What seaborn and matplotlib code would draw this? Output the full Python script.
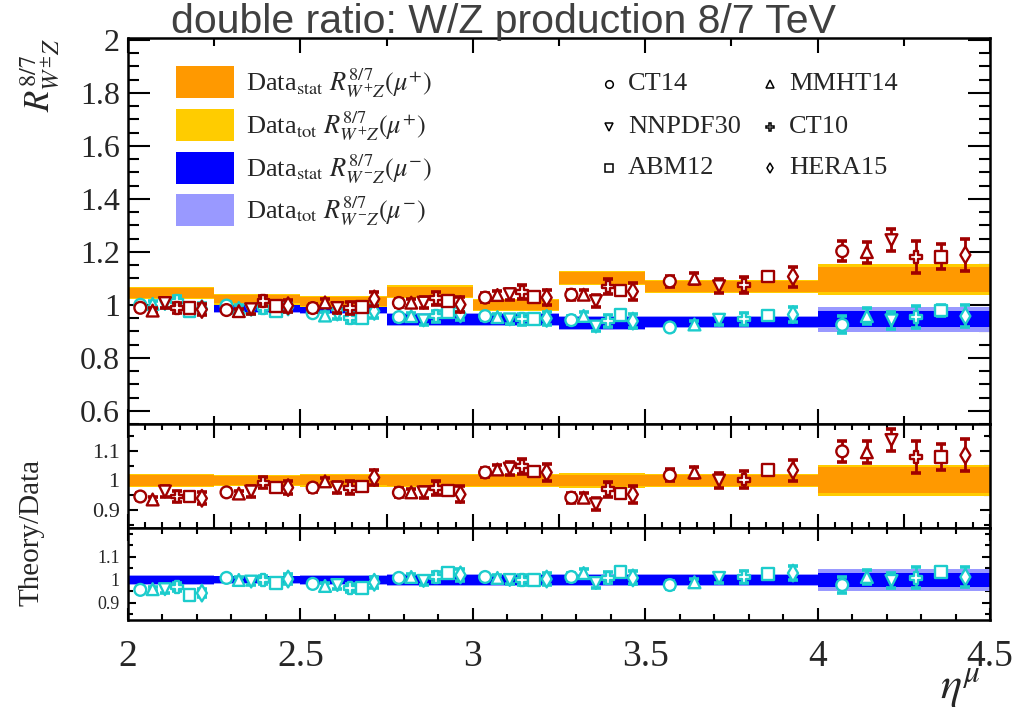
import numpy as np
import pandas as pd
import matplotlib
matplotlib.use("Agg")
import matplotlib.pyplot as plt
import seaborn as sns
from matplotlib.patches import Rectangle
from matplotlib.ticker import MultipleLocator, FormatStrFormatter, FixedLocator

sns.set_theme(style="ticks")
plt.rcParams['font.family'] = ['Liberation Serif', 'DejaVu Serif']
plt.rcParams['mathtext.fontset'] = 'stix'

# ---------------- data ----------------
bin_edges = [2.0, 2.25, 2.5, 2.75, 3.0, 3.25, 3.5, 4.0, 4.5]
pdf_names = ['CT14', 'MMHT14', 'NNPDF30', 'CT10', 'ABM12', 'HERA15']
pdf_markers = ['o', '^', 'v', 'P', 's', 'd']

# measured double ratio, W+ (mu+)
data_wp = [1.045, 1.021, 1.012, 1.050, 1.000, 1.102, 1.070, 1.095]
data_wp_stat = [0.020, 0.016, 0.017, 0.019, 0.018, 0.022, 0.021, 0.048]
data_wp_tot = [0.024, 0.020, 0.021, 0.023, 0.022, 0.027, 0.025, 0.058]
# measured double ratio, W- (mu-)
data_wm = [1.045, 0.988, 0.985, 0.945, 0.945, 0.930, 0.935, 0.945]
data_wm_stat = [0.020, 0.015, 0.016, 0.020, 0.021, 0.022, 0.019, 0.030]
data_wm_tot = [0.023, 0.019, 0.020, 0.024, 0.025, 0.026, 0.023, 0.047]

# theory / data, rows = eta bins, columns = PDF sets
ratio_wp = [
    [0.946, 0.936, 0.963, 0.946, 0.946, 0.940],
    [0.960, 0.956, 0.963, 0.993, 0.976, 0.976],
    [0.976, 0.997, 0.976, 0.976, 0.980, 1.010],
    [0.959, 0.960, 0.960, 0.976, 0.966, 0.953],
    [1.027, 1.037, 1.040, 1.048, 1.030, 1.027],
    [0.942, 0.942, 0.920, 0.970, 0.956, 0.953],
    [1.017, 1.027, 1.000, 1.003, 1.034, 1.034],
    [1.098, 1.095, 1.136, 1.078, 1.078, 1.085],
]
ratio_wm = [
    [0.957, 0.960, 0.960, 0.970, 0.935, 0.943],
    [1.009, 1.000, 0.993, 1.000, 0.987, 1.004],
    [0.983, 0.974, 0.978, 0.965, 0.965, 0.990],
    [1.009, 1.013, 0.996, 1.013, 1.030, 1.022],
    [1.013, 1.009, 1.000, 1.000, 1.000, 1.004],
    [1.013, 1.030, 0.987, 1.009, 1.035, 1.009],
    [0.978, 0.990, 1.009, 1.013, 1.026, 1.030],
    [0.978, 1.013, 0.996, 1.009, 1.035, 1.013],
]
# relative theory uncertainties
err_wp = [
    [0.012, 0.010, 0.018, 0.020, 0.010, 0.022],
    [0.012, 0.010, 0.018, 0.020, 0.010, 0.022],
    [0.014, 0.012, 0.020, 0.022, 0.012, 0.026],
    [0.015, 0.013, 0.020, 0.024, 0.012, 0.028],
    [0.016, 0.014, 0.020, 0.024, 0.013, 0.028],
    [0.018, 0.016, 0.022, 0.026, 0.015, 0.030],
    [0.020, 0.018, 0.024, 0.028, 0.016, 0.034],
    [0.032, 0.033, 0.033, 0.050, 0.040, 0.050],
]
err_wm = [
    [0.010, 0.010, 0.016, 0.018, 0.010, 0.020],
    [0.012, 0.012, 0.016, 0.018, 0.010, 0.020],
    [0.012, 0.012, 0.018, 0.020, 0.010, 0.024],
    [0.014, 0.014, 0.018, 0.022, 0.012, 0.026],
    [0.014, 0.014, 0.018, 0.022, 0.012, 0.026],
    [0.016, 0.016, 0.020, 0.024, 0.014, 0.028],
    [0.016, 0.016, 0.020, 0.024, 0.014, 0.030],
    [0.035, 0.030, 0.033, 0.045, 0.020, 0.043],
]

legend_band_labels = [
    r'Data$_{\mathrm{stat}}$ $R^{8/7}_{W^{+}Z}(\mu^{+})$',
    r'Data$_{\mathrm{tot}}$ $R^{8/7}_{W^{+}Z}(\mu^{+})$',
    r'Data$_{\mathrm{stat}}$ $R^{8/7}_{W^{-}Z}(\mu^{-})$',
    r'Data$_{\mathrm{tot}}$ $R^{8/7}_{W^{-}Z}(\mu^{-})$',
]

# ---------------- styles ----------------
C_ORANGE = '#FF9900'
C_YELLOW = '#FFCC00'
C_BLUE = '#0000FF'
C_LAV = '#9999FF'
C_RED = '#A00000'
C_CYAN = '#1CCCCC'
band_colors = [C_ORANGE, C_YELLOW, C_BLUE, C_LAV]
marker_map = dict(zip(pdf_names, pdf_markers))

edges = np.array(bin_edges)
lo, wid = edges[:-1], np.diff(edges)


def theory_frame(ratio, err, data):
    rows = []
    for b in range(len(lo)):
        for i, name in enumerate(pdf_names):
            x = lo[b] + (i + 1) / 7.0 * wid[b]
            r = ratio[b][i]
            rows.append(dict(x=x, pdf=name, ratio=r, ratio_err=err[b][i] * r,
                             val=r * data[b], val_err=err[b][i] * r * data[b]))
    return pd.DataFrame(rows)


df_wp = theory_frame(ratio_wp, err_wp, data_wp)
df_wm = theory_frame(ratio_wm, err_wm, data_wm)


def bands(ax, c, e, color, z):
    c = np.asarray(c); e = np.asarray(e)
    ax.bar(lo, 2 * e, bottom=c - e, width=wid, align='edge', color=color,
           linewidth=0, zorder=z)


def points(ax, df, ycol, ecol, color, z):
    ax.errorbar(df['x'], df[ycol], yerr=df[ecol], fmt='none', ecolor=color,
                elinewidth=2.0, capsize=3.5, capthick=2.6, zorder=z)
    sns.scatterplot(data=df, x='x', y=ycol, style='pdf', markers=marker_map,
                    style_order=pdf_names, s=72, color=color, legend=False,
                    ax=ax, zorder=z + 0.5)
    coll = ax.collections[-1]
    coll.set_facecolor('white')
    coll.set_edgecolor(color)
    coll.set_linewidth(1.7)


fig = plt.figure(figsize=(10.13, 7.16), dpi=100)
L, W = 128 / 1013, 862 / 1013
ax1 = fig.add_axes([L, 1 - 424 / 716, W, 386 / 716])
ax2 = fig.add_axes([L, 1 - 528 / 716, W, 104 / 716])
ax3 = fig.add_axes([L, 1 - 620 / 716, W, 92 / 716])

# top panel
bands(ax1, data_wm, data_wm_tot, C_LAV, 1)
bands(ax1, data_wm, data_wm_stat, C_BLUE, 2)
bands(ax1, data_wp, data_wp_tot, C_YELLOW, 3)
bands(ax1, data_wp, data_wp_stat, C_ORANGE, 4)
points(ax1, df_wm, 'val', 'val_err', C_CYAN, 5)
points(ax1, df_wp, 'val', 'val_err', C_RED, 7)

# middle panel (mu+)
one = np.ones(len(lo))
bands(ax2, one, np.array(data_wp_tot) / np.array(data_wp), C_YELLOW, 3)
bands(ax2, one, np.array(data_wp_stat) / np.array(data_wp), C_ORANGE, 4)
points(ax2, df_wp, 'ratio', 'ratio_err', C_RED, 7)

# bottom panel (mu-)
bands(ax3, one, np.array(data_wm_tot) / np.array(data_wm), C_LAV, 1)
bands(ax3, one, np.array(data_wm_stat) / np.array(data_wm), C_BLUE, 2)
points(ax3, df_wm, 'ratio', 'ratio_err', C_CYAN, 5)

for ax in (ax1, ax2, ax3):
    ax.set_xlim(2.0, 4.5)
    ax.set_xlabel('')
    ax.set_ylabel('')
    for s in ax.spines.values():
        s.set_linewidth(1.8)
        s.set_color('black')
        s.set_zorder(20)
    ax.tick_params(which='both', direction='in', top=True, right=True,
                   width=1.5, color='black')
    ax.yaxis.set_major_formatter(FormatStrFormatter('%g'))
    ax.xaxis.set_major_formatter(FormatStrFormatter('%g'))

ax1.set_ylim(0.55, 2.007)
ax1.yaxis.set_major_locator(MultipleLocator(0.2))
ax1.yaxis.set_minor_locator(MultipleLocator(0.05))
ax1.xaxis.set_major_locator(MultipleLocator(0.5))
ax1.xaxis.set_minor_locator(MultipleLocator(0.25))
ax1.tick_params(axis='y', which='major', length=16, labelsize=23, pad=6)
ax1.tick_params(axis='y', which='minor', length=8)
ax1.tick_params(axis='x', which='major', length=11, labelbottom=False)
ax1.tick_params(axis='x', which='minor', length=6)

ax2.set_ylim(0.84, 1.19)
ax2.yaxis.set_major_locator(MultipleLocator(0.1))
ax2.yaxis.set_minor_locator(MultipleLocator(0.05))
ax2.xaxis.set_major_locator(MultipleLocator(0.25))
ax2.xaxis.set_minor_locator(MultipleLocator(0.05))
ax2.tick_params(axis='y', which='major', length=7, labelsize=16, pad=6)
ax2.tick_params(axis='y', which='minor', length=4)
ax2.tick_params(axis='x', which='major', length=10, labelbottom=False)
ax2.tick_params(axis='x', which='minor', length=4)

ax3.set_ylim(0.826, 1.226)
ax3.yaxis.set_major_locator(FixedLocator([0.9, 1.0, 1.1]))
ax3.yaxis.set_minor_locator(FixedLocator([0.85, 0.95, 1.05, 1.15, 1.2]))
ax3.xaxis.set_major_locator(MultipleLocator(0.5))
ax3.xaxis.set_minor_locator(MultipleLocator(0.1))
ax3.tick_params(axis='y', which='major', length=6, labelsize=13, pad=6)
ax3.tick_params(axis='y', which='minor', length=3.5)
ax3.tick_params(axis='x', which='major', length=9, labelsize=27, pad=14)
ax3.tick_params(axis='x', which='minor', length=4.5)

# legends (band legend)
ys = [66, 109, 152, 194]
for lab, col, ytop in zip(legend_band_labels, band_colors, ys):
    fig.patches.append(Rectangle((176 / 1013, 1 - (ytop + 32) / 716), 58 / 1013, 32 / 716,
                                 transform=fig.transFigure, facecolor=col,
                                 edgecolor='none', zorder=30))
    fig.text(246 / 1013, 1 - (ytop + 17) / 716, lab, fontsize=19, va='center',
             ha='left', zorder=31)

# PDF marker legend
leg_pos = [(609, 84), (770, 84), (609, 127), (770, 127), (609, 168), (770, 168)]
for (px, py), name, mk in zip(leg_pos, pdf_names, pdf_markers):
    fig.lines.append(plt.Line2D([px / 1013], [1 - py / 716], marker=mk, markersize=5.5,
                                markerfacecolor='white', markeredgecolor='black',
                                markeredgewidth=1.1, linestyle='none',
                                transform=fig.transFigure, zorder=31))
    fig.text((px + 19) / 1013, 1 - py / 716, name, fontsize=19, va='center',
             ha='left', zorder=31)

# titles and axis labels
fig.text(0.497, 1 - 22 / 716, 'double ratio: W/Z production 8/7 TeV', ha='center',
         va='center', fontsize=29.5, family='Liberation Sans', color='#404040', zorder=40)
fig.text(40 / 1013, 1 - 75 / 716, r'$R^{8/7}_{W^{\pm}Z}$', rotation=90, fontsize=25,
         ha='center', va='center')
fig.text(32 / 1013, 1 - 532 / 716, 'Theory/Data', rotation=90, fontsize=21,
         ha='center', va='center')
fig.text(960 / 1013, 1 - 688 / 716, r'$\eta^{\mu}$', fontsize=32, ha='center',
         va='center')

fig.savefig('out.png', dpi=100)
